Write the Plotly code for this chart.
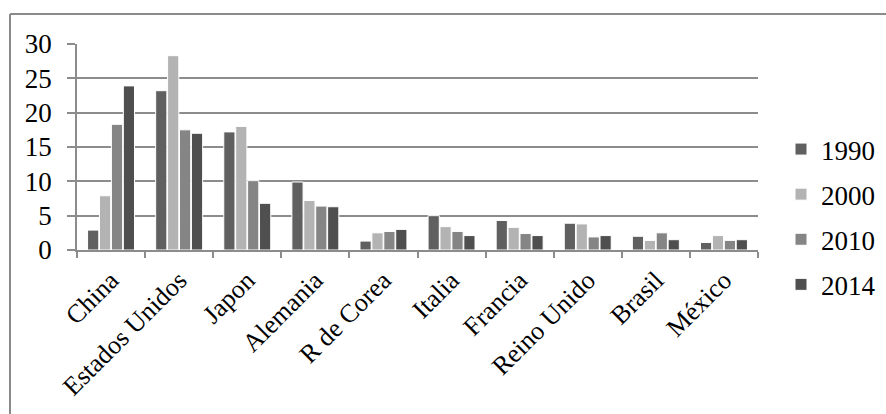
import plotly.graph_objects as go

categories = ["China", "Estados Unidos", "Japon", "Alemania", "R de Corea",
              "Italia", "Francia", "Reino Unido", "Brasil", "México"]
years = ["1990", "2000", "2010", "2014"]
v1990 = [2.9, 23.2, 17.2, 9.9, 1.3, 5.0, 4.3, 3.9, 2.0, 1.1]
v2000 = [7.9, 28.3, 18.0, 7.2, 2.5, 3.4, 3.3, 3.8, 1.4, 2.1]
v2010 = [18.3, 17.5, 10.1, 6.4, 2.7, 2.7, 2.4, 1.9, 2.5, 1.4]
v2014 = [23.9, 17.0, 6.8, 6.3, 3.0, 2.1, 2.1, 2.1, 1.5, 1.5]
series = [v1990, v2000, v2010, v2014]
colors = ["#606060", "#b3b3b3", "#858585", "#4f4f4f"]
y_ticks = [0, 5, 10, 15, 20, 25, 30]

W, H = 886, 414
L, R, T, B = 77, 128, 44, 164
pw, ph = W - L - R, H - T - B

fig = go.Figure()
for name, vals, col in zip(years, series, colors):
    fig.add_trace(go.Bar(
        x=categories, y=vals, name=name, legendgroup=name,
        marker=dict(color=col, line=dict(color="white", width=1)),
    ))

def px_x(p):
    return (p - L) / pw

def px_y(p):
    return (H - B - p) / ph

fam = "Liberation Serif, Times New Roman, serif"
font = dict(family=fam, size=26, color="black")
yfont = dict(family=fam, size=27, color="black")
grid = "#8c8c8c"

fig.update_layout(
    width=W, height=H,
    margin=dict(l=L, r=R, t=T, b=B, autoexpand=False),
    paper_bgcolor="white", plot_bgcolor="white",
    barmode="group", bargap=0.3, bargroupgap=0.06,
    font=font,
    showlegend=True,
    legend=dict(x=px_x(781), y=px_y(217), xanchor="left", yanchor="middle",
                font=dict(family=fam, size=27, color="black"),
                tracegroupgap=7, traceorder="grouped",
                bgcolor="rgba(0,0,0,0)"),
    xaxis=dict(type="category", tickson="boundaries", ticks="outside", ticklen=6,
               tickcolor=grid, tickwidth=1.5, showline=True, linecolor=grid,
               linewidth=1.5, tickangle=-45, showgrid=False, automargin=False,
               tickfont=font, ticklabelstandoff=3),
    yaxis=dict(range=[0, 30], tickvals=y_ticks, ticks="outside", ticklen=8,
               tickcolor=grid, tickwidth=1.5, showgrid=True, gridcolor=grid,
               gridwidth=1.5, showline=True, linecolor=grid, linewidth=1.5,
               zeroline=False, tickfont=yfont, ticklabelstandoff=10,
               automargin=False),
    shapes=[
        dict(type="line", xref="paper", yref="paper",
             x0=px_x(10), x1=px_x(886), y0=px_y(14), y1=px_y(14),
             line=dict(color="#8a8a8a", width=2)),
        dict(type="line", xref="paper", yref="paper",
             x0=px_x(10), x1=px_x(10), y0=px_y(14), y1=px_y(414),
             line=dict(color="#8a8a8a", width=2)),
    ],
)

fig.write_html("out.html")
